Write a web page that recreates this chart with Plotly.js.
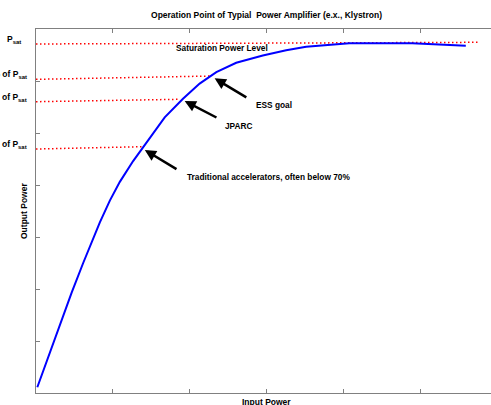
<!DOCTYPE html>
<html>
<head>
<meta charset="utf-8">
<script src="https://cdn.plot.ly/plotly-3.0.1.min.js"></script>
<style>
html,body{margin:0;padding:0;overflow:hidden;background:#fff;}
#chart{width:500px;height:405px;}
</style>
</head>
<body>
<div id="chart"></div>
<script>
// Amplifier transfer curve (input power vs output power, arbitrary units)
const inputPower = [0.017,0.117,0.247,0.355,0.464,0.614,0.723,0.831,0.961,1.091,1.264,1.394,1.481,1.675,1.913,2.130,2.347,2.606,2.952,3.256,3.516,4.078,4.896,5.594];
const outputPower = [0.11,0.52,1.07,1.50,1.93,2.50,2.90,3.28,3.70,4.06,4.46,4.72,4.90,5.30,5.66,5.95,6.17,6.35,6.49,6.59,6.66,6.725,6.725,6.679];

// Reference levels (dotted red lines): start/end x and start/end y
const levelNames = ["Psat", "ESS", "JPARC", "Traditional"];
const levelX0 = [0, 0, 0, 0];
const levelX1 = [5.77, 2.29, 1.87, 1.39];
const levelY0 = [6.712, 6.032, 5.602, 4.692];
const levelY1 = [6.744, 6.096, 5.648, 4.737];
const levelLabels = ["P<sub>sat</sub>", "90% of P<sub>sat</sub>", "of P<sub>sat</sub>", "of P<sub>sat</sub>"];

// Arrow annotations: label, head (x,y), tail (x,y), text position
const arrowLabels = ["ESS goal", "JPARC", "Traditional accelerators, often below 70%"];
const arrowHeadX = [2.325, 1.935, 1.416];
const arrowHeadY = [6.052, 5.615, 4.673];
const arrowTailX = [2.757, 2.368, 1.848];
const arrowTailY = [5.667, 5.283, 4.288];
const arrowTextX = [2.831, 2.433, 1.935];
const arrowTextY = [5.548, 5.138, 4.16];

const tickVals = [0,1,2,3,4,5,6];
const yTickVals = [0,1,2,3,4,5,6,7];

const FONT = "Liberation Sans, Arial, sans-serif";
const PLOT_L = 36, PLOT_W = 461;

const traces = [];
for (let i = 0; i < levelNames.length; i++) {
  traces.push({
    x: [levelX0[i], levelX1[i]],
    y: [levelY0[i], levelY1[i]],
    mode: "lines",
    line: {color: "#ff0000", width: 1.5, dash: "1.5px,2.5px"},
    hoverinfo: "skip",
    showlegend: false
  });
}
traces.push({
  x: inputPower,
  y: outputPower,
  mode: "lines",
  line: {color: "#0000ff", width: 2},
  showlegend: false
});

const annotations = [];
for (let i = 0; i < levelLabels.length; i++) {
  const rightPx = i === 0 ? 23 : 28.5;
  annotations.push({
    xref: "paper", yref: "y",
    x: (rightPx - PLOT_L) / PLOT_W,
    y: levelY0[i],
    xanchor: "right", yanchor: "bottom",
    yshift: -3,
    text: levelLabels[i],
    showarrow: false,
    font: {family: FONT, size: 8.5, color: "#000", weight: "bold"}
  });
}
for (let i = 0; i < arrowLabels.length; i++) {
  annotations.push({
    xref: "x", yref: "y", axref: "x", ayref: "y",
    x: arrowHeadX[i], y: arrowHeadY[i],
    ax: arrowTailX[i], ay: arrowTailY[i],
    text: "",
    showarrow: true,
    arrowhead: 2, arrowsize: 0.9, arrowwidth: 2.5, arrowcolor: "#000"
  });
  annotations.push({
    xref: "x", yref: "y",
    x: arrowTextX[i], y: arrowTextY[i],
    xanchor: "left", yanchor: "middle",
    text: arrowLabels[i],
    showarrow: false,
    font: {family: FONT, size: 8.3, color: "#000", weight: "bold"}
  });
}
annotations.push({
  xref: "x", yref: "y", x: 1.792, y: 6.635,
  xanchor: "left", yanchor: "middle",
  text: "Saturation Power Level", showarrow: false,
  font: {family: FONT, size: 8.3, color: "#000", weight: "bold"}
});
annotations.push({
  xref: "paper", yref: "paper", x: 0.5, y: 0,
  xanchor: "center", yanchor: "top", yshift: -2,
  text: "Input Power", showarrow: false,
  font: {family: FONT, size: 8.5, color: "#000", weight: "bold"}
});
annotations.push({
  xref: "paper", yref: "paper", x: (24 - PLOT_L) / PLOT_W, y: 0.5,
  xanchor: "center", yanchor: "middle", textangle: -90,
  text: "Output Power", showarrow: false,
  font: {family: FONT, size: 8.5, color: "#000", weight: "bold"}
});

const axisCommon = {
  showgrid: false, zeroline: false, showticklabels: false,
  showline: true, linecolor: "#808080", linewidth: 1,
  mirror: "ticks", ticks: "inside", ticklen: 4, tickcolor: "#808080", tickwidth: 1
};

const layout = {
  width: 500, height: 405,
  margin: {l: 36, r: 3, t: 29, b: 12},
  paper_bgcolor: "#fff", plot_bgcolor: "#fff",
  title: {
    text: "Operation Point of Typial  Power Amplifier (e.x., Klystron)",
    xref: "paper", x: 0.5, xanchor: "center",
    yref: "container", y: 1 - 15/405, yanchor: "middle",
    font: {family: FONT, size: 8.5, color: "#000", weight: "bold"}
  },
  xaxis: Object.assign({range: [0, 6], tickvals: tickVals}, axisCommon),
  yaxis: Object.assign({range: [0, 7], tickvals: yTickVals}, axisCommon),
  annotations: annotations,
  showlegend: false
};

Plotly.newPlot("chart", traces, layout, {displayModeBar: false, staticPlot: true});
</script>
</body>
</html>
